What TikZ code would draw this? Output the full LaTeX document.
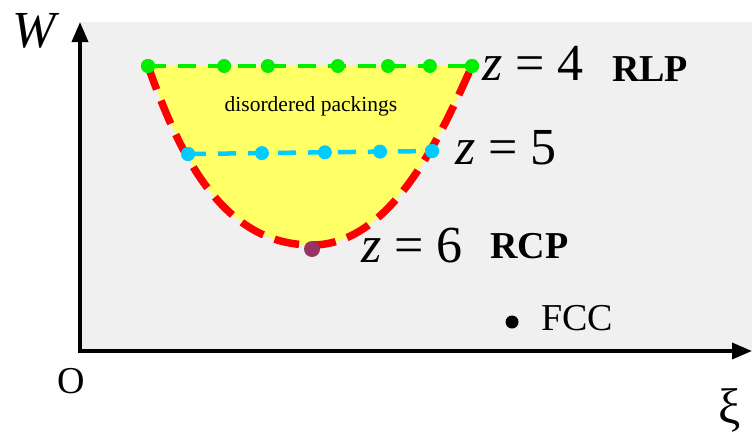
\documentclass[tikz,border=0pt]{standalone}
\usepackage{fontspec}
\setmainfont{Liberation Serif}
\usetikzlibrary{arrows.meta, calc}

\definecolor{bggray}{HTML}{F0F0F0}
\definecolor{zfour}{HTML}{00EE00}
\definecolor{zfive}{HTML}{00CCFF}
\definecolor{zsix}{HTML}{FF0000}
\definecolor{fillyellow}{HTML}{FFFF66}
\definecolor{rcpdot}{HTML}{993366}

\begin{document}
\begin{tikzpicture}[
    x=1pt, y=-1pt,
    axis/.style={line width=3.5pt, -{Triangle[length=20pt, width=16pt]}},
    gdot/.style={circle, fill=zfour, inner sep=0pt, minimum size=14pt},
    bdot/.style={circle, fill=zfive, inner sep=0pt, minimum size=14pt},
    gline/.style={draw=zfour, line width=4.5pt, dash pattern=on 18pt off 12pt},
    bline/.style={draw=zfive, line width=4.5pt, dash pattern=on 18pt off 12pt},
    rline/.style={draw=zsix, line width=7.5pt, dash pattern=on 25pt off 12pt},
    label/.style={inner sep=0pt, anchor=base west},
    bigfont/.style={font=\fontsize{52}{60}\selectfont},
    tagfont/.style={font=\fontsize{38}{44}\selectfont\bfseries},
]
    \useasboundingbox (0,0) rectangle (752,439);
    \fill[bggray] (80,22) rectangle (752,351);

    % Region of disordered packings
    \coordinate (top left) at (148,66);
    \coordinate (top right) at (472,66);
    \coordinate (bottom) at (312,245);
    \fill[fillyellow] (top left) .. controls (178,150) and (220,245) .. (bottom)
        .. controls (395,245) and (445,125) .. (top right) -- cycle;
    \draw[rline] (top left) .. controls (178,150) and (220,245) .. (bottom)
        .. controls (395,245) and (445,125) .. (top right);

    % z = 4 line
    \node[gdot] (g1) at (top left) {};
    \node[gdot] (g7) at (top right) {};
    \draw[gline] (g1.center) -- (g7.center);
    \foreach \t [count=\i from 2] in {0.235, 0.370, 0.586, 0.741, 0.870}
        \node[gdot] (g\i) at ($(g1.center)!\t!(g7.center)$) {};
    \node[gdot] at (top left) {};
    \node[gdot] at (top right) {};

    % z = 5 line
    \node[bdot] (b1) at (188,154) {};
    \node[bdot] (b5) at (432,151) {};
    \draw[bline] (b1.center) -- (b5.center);
    \foreach \t [count=\i from 2] in {0.303, 0.561, 0.787}
        \node[bdot] (b\i) at ($(b1.center)!\t!(b5.center)$) {};
    \node[bdot] at (b1) {};
    \node[bdot] at (b5) {};

    % RCP and FCC points
    \node[circle, fill=rcpdot, inner sep=0pt, minimum size=16pt] (rcp) at (312,249) {};
    \node[circle, fill=black, inner sep=0pt, minimum size=13pt] (fcc) at (512,322) {};

    % Axes
    \draw[axis] (80,353) -- (80,22);
    \draw[axis] (78,351) -- (752,351);

    % Labels
    \node[label, bigfont] (wlabel) at (12,47) {\itshape W};
    \node[label, font=\fontsize{38}{44}\selectfont] (origin) at (57,393) {O};
    \node[inner sep=0pt, font=\fontsize{50}{58}\selectfont] (xilabel) at (730,410) {ξ};
    \node[font=\fontsize{21.5}{26}\selectfont] (region) at (311,106) {disordered packings};
    \node[label, bigfont] (zfourlabel) at (482,80) {{\itshape z}\hspace{.25em}=\hspace{.25em}4};
    \node[label, tagfont] (rlp) at (612,81) {RLP};
    \node[label, bigfont] (zfivelabel) at (455,164) {{\itshape z}\hspace{.25em}=\hspace{.25em}5};
    \node[label, bigfont] (zsixlabel) at (361,262) {{\itshape z}\hspace{.25em}=\hspace{.25em}6};
    \node[label, tagfont] (rcplabel) at (490,258) {RCP};
    \node[label, font=\fontsize{38}{44}\selectfont] (fcclabel) at (541,330) {FCC};
\end{tikzpicture}
\end{document}
